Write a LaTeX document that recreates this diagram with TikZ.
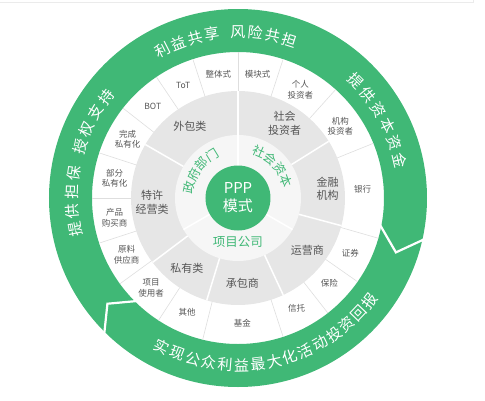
\documentclass[tikz,border=0pt]{standalone}
\usepackage{fontspec}
\setmainfont{Noto Sans CJK SC}
\definecolor{pgreen}{RGB}{64,184,118}
\definecolor{ringgray}{RGB}{230,230,230}
\definecolor{innergray}{RGB}{246,246,246}
\definecolor{labelgray}{RGB}{85,85,85}
\definecolor{sepgray}{RGB}{222,222,222}
\begin{document}
\begin{tikzpicture}[x=1pt,y=1pt,
  outerlbl/.style={font=\fontsize{8.5}{10.5}\selectfont, text=labelgray, align=center, inner sep=0},
  midlbl/.style={font=\fontsize{11}{13.5}\selectfont, text=labelgray, align=center, inner sep=0},
  greenlbl/.style={font=\fontsize{12.5}{14}\selectfont, text=pgreen, inner sep=0},
  ringtxt/.style={font=\fontsize{15}{16}\selectfont, text=white, inner sep=0},
  gap/.style={white, line width=2.2, line join=miter},
]
\useasboundingbox (-238,-202) rectangle (247,198);
\draw[black!8, line width=0.8] (-238,196) -- (235,196) -- (235,198);
% rings
\fill[pgreen, even odd rule] (0,0) circle (189) (0,0) circle (146);
\fill[ringgray] (0,0) circle (107);
\fill[innergray] (0,0) circle (63);
% outer ring separators
\foreach \a in {108,90,72,48,22,-16,-35,-52,-72,-104,-123,-144,-162,180,162,142,124}
  \draw[sepgray, line width=0.6] (\a:107) -- (\a:146);
% gray ring separators
\foreach \a in {150,90,32,-15,-65,-107,-143}
  \draw[white, line width=1.5] (\a:63) -- (\a:107);
% inner ring separators
\foreach \a in {90,-30,210}
  \draw[white, line width=1.5] (\a:30) -- (\a:63);
% arrow junctions in the green ring
\draw[gap] (-10:143) -- (-19:167) -- (-12:193);
\draw[gap] (-134:143) -- (-141:168) -- (-134:193);
% centre
\node[circle, fill=pgreen, minimum size=65, inner sep=0, text=white,
      font=\fontsize{15}{18}\selectfont, align=center] (ppp) at (0,0) {PPP\\模式};
% inner labels
\foreach \c/\a [count=\i] in {政/168,府/152.5,部/137,门/121.5}
  \node[greenlbl, rotate=\a-90] (gov\i) at (\a:50) {\c};
\foreach \c/\a [count=\i] in {社/66,会/50.5,资/35,本/19.5}
  \node[greenlbl, rotate=\a-90] (soc\i) at (\a:51) {\c};
\node[greenlbl] (proj) at (0,-44) {项目公司};
% gray ring labels
\node[midlbl] (m1) at (124:86) {外包类};
\node[midlbl] (m2) at (58:88) {社会\\投资者};
\node[midlbl] (m3) at (6:90) {金融\\机构};
\node[midlbl] (m4) at (-37:87) {运营商};
\node[midlbl] (m5) at (-87:85) {承包商};
\node[midlbl] (m6) at (-126:87) {私有类};
\node[midlbl] (m7) at (183:86) {特许\\经营类};
% outer ring labels
\foreach \t/\a [count=\i] in {ToT/116,整体式/99,模块式/81,个人\\投资者/60,机构\\投资者/35,银行/4,证券/-26,保险/-43,信托/-62,基金/-88,其他/-114,项目\\使用者/-134,原料\\供应商/-153,产品\\购买商/-171,部分\\私有化/171,完成\\私有化/152,BOT/133}
  \node[outerlbl] (o\i) at (\a:125) {\t};
% text on the green ring
\foreach \c/\a [count=\i] in {利/117,益/111,共/105,享/99,风/90,险/84,共/78,担/72}
  \node[ringtxt, rotate=\a-90] (top\i) at (\a:166) {\c};
\foreach \c/\a [count=\i] in {提/191,供/184.5,担/178,保/171.5,授/162,权/155.5,支/149,持/142.5}
  \node[ringtxt, rotate=\a-90] (lft\i) at (\a:166) {\c};
\foreach \c/\a [count=\i] in {提/45,供/38.6,资/32.2,本/25.8,资/19.4,金/13}
  \node[ringtxt, rotate=\a-90] (rgt\i) at (\a:166) {\c};
\foreach \c [count=\i] in {实,现,公,众,利,益,最,大,化,活,动,投,资,回,报}
  \node[ringtxt, rotate={-117+(\i-1)*5.643+90}] (bot\i) at ({-117+(\i-1)*5.643}:167) {\c};
\end{tikzpicture}
\end{document}
